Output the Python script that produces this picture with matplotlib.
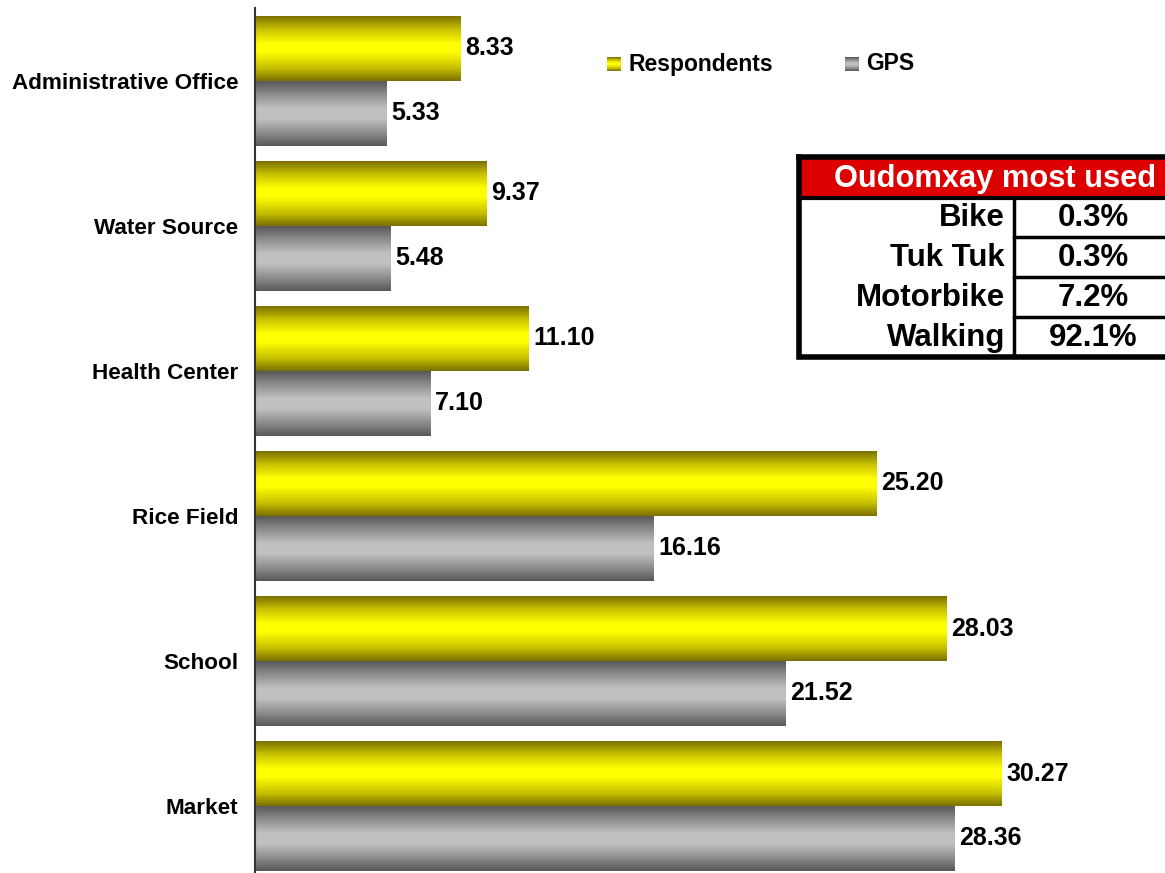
import matplotlib
matplotlib.use("Agg")
import matplotlib.pyplot as plt
import numpy as np
from matplotlib.colors import LinearSegmentedColormap
from matplotlib.patches import Rectangle

categories = ["Administrative Office", "Water Source", "Health Center",
              "Rice Field", "School", "Market"]
respondents = [8.33, 9.37, 11.10, 25.20, 28.03, 30.27]
gps = [5.33, 5.48, 7.10, 16.16, 21.52, 28.36]
series_names = ["Respondents", "GPS"]

table_title = "Oudomxay most used"
modes = ["Bike", "Tuk Tuk", "Motorbike", "Walking"]
mode_share = ["0.3%", "0.3%", "7.2%", "92.1%"]

yellow_cm = LinearSegmentedColormap.from_list(
    "yel", [(0, "#7a7000"), (0.2, "#c8c000"), (0.42, "#ffff00"),
            (0.55, "#ffff00"), (0.8, "#c8c000"), (1, "#7a7000")])
grey_cm = LinearSegmentedColormap.from_list(
    "gry", [(0, "#585858"), (0.2, "#8c8c8c"), (0.42, "#c0c0c0"),
            (0.58, "#c0c0c0"), (0.8, "#8c8c8c"), (1, "#585858")])

FONT = ["Liberation Sans", "DejaVu Sans"]
NARROW = ["Liberation Sans Narrow", "Liberation Sans", "DejaVu Sans"]


def grad_fill(ax, patch, cmap):
    x0, y0 = patch.get_x(), patch.get_y()
    w, h = patch.get_width(), patch.get_height()
    g = np.linspace(0, 1, 256).reshape(-1, 1)
    im = ax.imshow(g, cmap=cmap, aspect="auto", origin="upper",
                   extent=(x0, x0 + w, y0 + h, y0), zorder=2,
                   interpolation="bilinear")
    im.set_clip_path(patch)


def main():
    plt.rcParams["font.family"] = FONT
    fig = plt.figure(figsize=(11.65, 8.73), dpi=100)
    ax = fig.add_axes([255 / 1165, 0, 910 / 1165, 1 - 8 / 873])

    pos = np.arange(len(categories))
    h = 0.448
    b1 = ax.barh(pos - h, respondents, height=h, align="edge",
                 facecolor="none", edgecolor="none")
    b2 = ax.barh(pos, gps, height=h, align="edge",
                 facecolor="none", edgecolor="none")
    for p in b1:
        grad_fill(ax, p, yellow_cm)
    for p in b2:
        grad_fill(ax, p, grey_cm)

    for bars, vals in ((b1, respondents), (b2, gps)):
        for p, v in zip(bars, vals):
            ax.annotate("%.2f" % v, (v, p.get_y() + p.get_height() / 2),
                        xytext=(3.5, 0), textcoords="offset points",
                        ha="left", va="center", fontsize=18,
                        fontweight="bold", family=NARROW)

    ax.set_xlim(0, 36.9)
    ax.set_ylim(5.462, -0.503)
    ax.set_yticks(pos)
    ax.set_yticklabels(categories, fontsize=16.2, fontweight="bold")
    ax.tick_params(axis="y", length=0, pad=12)
    ax.set_xticks([])
    for s in ("top", "right", "bottom"):
        ax.spines[s].set_visible(False)
    ax.spines["left"].set_color("#333333")
    ax.spines["left"].set_linewidth(1.5)

    # overlay in pixel coordinates for legend and the table
    ov = fig.add_axes([0, 0, 1, 1], facecolor="none")
    ov.set_xlim(0, 1165)
    ov.set_ylim(873, 0)
    ov.axis("off")

    g = np.linspace(0, 1, 64).reshape(-1, 1)
    for x, cm, name in ((607, yellow_cm, series_names[0]),
                        (845, grey_cm, series_names[1])):
        ov.imshow(g, cmap=cm, aspect="auto", extent=(x, x + 14, 71, 57))
        ov.text(x + 21, 64, name, fontsize=16.5, fontweight="bold",
                va="center", ha="left")

    # table
    ov.add_patch(Rectangle((799, 157), 400, 40, facecolor="#dd0000",
                           edgecolor="none"))
    ov.plot([799, 1170], [198, 198], color="black", lw=3)
    ov.plot([799, 799, 1170], [157, 357, 357], color="black", lw=4,
            solid_joinstyle="miter")
    ov.plot([799, 1170], [157, 157], color="black", lw=4)
    ov.plot([1014, 1014], [198, 357], color="black", lw=2.5)
    row_h = 40
    for i in range(1, len(modes)):
        yy = 198 + i * row_h - 1
        ov.plot([1014, 1170], [yy, yy], color="black", lw=2.5)
    ov.text(834, 179, table_title, color="white", fontsize=22.2,
            fontweight="bold", va="center", ha="left")
    for i, (m, s) in enumerate(zip(modes, mode_share)):
        yc = 198 + i * row_h + row_h / 2
        ov.text(1005, yc, m, fontsize=22.5, fontweight="bold",
                ha="right", va="center")
        ov.text(1093, yc, s, fontsize=22.5, fontweight="bold",
                ha="center", va="center")

    fig.savefig("out.png", dpi=100)


if __name__ == "__main__":
    main()
